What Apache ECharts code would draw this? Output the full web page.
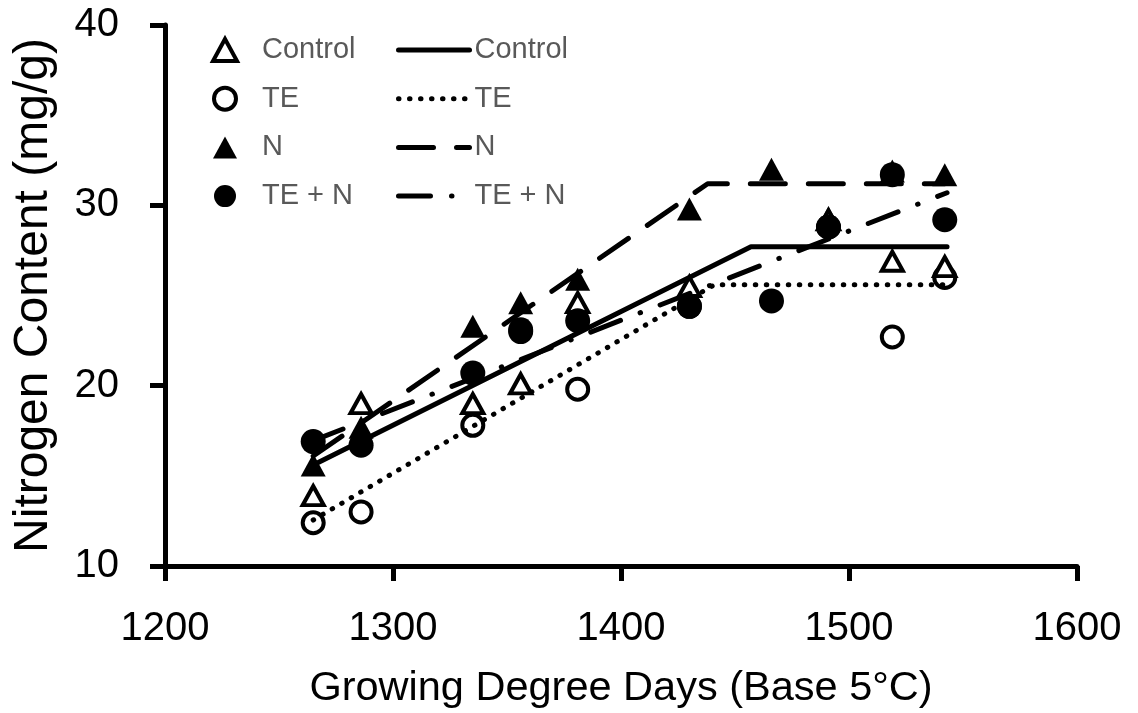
<!DOCTYPE html>
<html>
<head>
<meta charset="utf-8">
<style>
html,body{margin:0;padding:0;background:#fff;}
#chart{width:1138px;height:713px;}
</style>
<script src="https://cdn.jsdelivr.net/npm/echarts@6/dist/echarts.min.js"></script>
</head>
<body>
<div id="chart"></div>
<script>
// Growing degree days (x) for each sampling date
const gdd = [1265, 1286, 1335, 1356, 1381, 1430, 1466, 1491, 1519, 1542];
// Observed nitrogen content (mg/g); null = not visible in the figure
const controlObs = [13.9, 19.0, 19.0, 20.1, 24.6, 25.5, null, 29.2, 26.9, 26.6];
const teObs      = [12.4, 13.0, 17.8, 23.0, 19.8, 24.4, null, 28.8, 22.7, 26.0];
const nObs       = [15.6, 17.7, 23.3, 24.6, 25.9, 29.8, 32.0, 29.3, 31.9, 31.7];
const teNObs     = [16.9, 16.7, 20.7, 23.1, 23.6, 24.4, 24.7, 28.8, 31.7, 29.2];
// Fitted linear-plateau models: [GDD, N content]
const controlFit = [[1265, 15.6], [1457, 27.7], [1543, 27.7]];
const teFit      = [[1265, 12.55], [1441, 25.6], [1542, 25.6]];
const nFit       = [[1265, 16.1], [1438, 31.2], [1542, 31.2]];
const teNFit     = [[1265, 16.95], [1543, 30.7]];
// Axis ticks
const xTicks = {min: 1200, max: 1600, step: 100};
const yTicks = {min: 10, max: 40, step: 10};
const names = ['Control', 'TE', 'N', 'TE + N'];

function pairs(ys) {
  return gdd.map((x, i) => [x, ys[i]]).filter(p => p[1] !== null);
}

const FONT = 'Liberation Sans';
const openStyle = {color: '#ffffff', borderColor: '#000000', borderWidth: 4, opacity: 1};
const fillStyle = {color: '#000000', borderWidth: 0, opacity: 1};

const scatterSeries = [
  {name: names[1], type: 'scatter', symbol: 'circle', symbolSize: 21, itemStyle: openStyle, data: pairs(teObs), z: 2},
  {name: names[2], type: 'scatter', symbol: 'triangle', symbolSize: [25, 23], itemStyle: fillStyle, data: pairs(nObs), z: 2},
  {name: names[0], type: 'scatter', symbol: 'triangle', symbolSize: [21, 19], itemStyle: openStyle, data: pairs(controlObs), z: 2},
  {name: names[3], type: 'scatter', symbol: 'circle', symbolSize: 25, itemStyle: fillStyle, data: pairs(teNObs), z: 2}
];

const lineTypes = ['solid', [0.5, 10.5], [35, 23], [32, 21, 0.5, 21]];
const fits = [controlFit, teFit, nFit, teNFit];
const lineSeries = fits.map((d, i) => ({
  name: names[i] + ' ',
  type: 'line',
  data: d,
  symbol: 'none',
  showSymbol: false,
  silent: true,
  z: 3,
  lineStyle: {color: '#000', width: 5, type: lineTypes[i], cap: 'round', join: 'round'},
  itemStyle: {color: '#000'}
}));

const legendText = {fontFamily: FONT, fontSize: 29, color: '#595959', lineHeight: 30};

const chart = echarts.init(document.getElementById('chart'), null, {renderer: 'canvas'});
chart.setOption({
  animation: false,
  backgroundColor: '#fff',
  grid: {left: 165, right: 61, top: 25, bottom: 147, containLabel: false, outerBoundsMode: 'none'},
  xAxis: {
    type: 'value', min: xTicks.min, max: xTicks.max, interval: xTicks.step,
    name: 'Growing Degree Days (Base 5°C)', nameLocation: 'middle', nameGap: 102,
    nameTextStyle: {fontFamily: FONT, fontSize: 41.5, color: '#000'},
    axisLine: {show: true, lineStyle: {color: '#000', width: 5}},
    axisTick: {show: true, inside: false, length: 15, lineStyle: {color: '#000', width: 5}},
    axisLabel: {fontFamily: FONT, fontSize: 40, color: '#000', margin: 43, formatter: v => String(v)},
    splitLine: {show: false}
  },
  yAxis: {
    type: 'value', min: yTicks.min, max: yTicks.max, interval: yTicks.step,
    name: 'Nitrogen Content (mg/g)', nameLocation: 'middle', nameGap: 107, nameRotate: 90,
    nameTextStyle: {fontFamily: FONT, fontSize: 48, color: '#000'},
    axisLine: {show: true, lineStyle: {color: '#000', width: 5}},
    axisTick: {show: true, inside: false, length: 15, lineStyle: {color: '#000', width: 5}},
    axisLabel: {fontFamily: FONT, fontSize: 40, color: '#000', margin: 46, formatter: v => String(v)},
    splitLine: {show: false}
  },
  legend: [
    {
      orient: 'vertical', left: 206, top: 30, itemWidth: 24, itemHeight: 22, itemGap: 18.7,
      textStyle: Object.assign({padding: [0, 0, 0, 20]}, legendText),
      selectedMode: false,
      data: [
        {name: names[0], icon: 'triangle', itemStyle: {borderWidth: 4, borderColor: '#000', color: '#fff'}},
        {name: names[1], icon: 'circle', itemStyle: {borderWidth: 4, borderColor: '#000', color: '#fff'}},
        {name: names[2], icon: 'triangle', itemStyle: {color: '#000', borderWidth: 0}},
        {name: names[3], icon: 'circle', itemStyle: {color: '#000', borderWidth: 0}}
      ]
    },
    {
      orient: 'vertical', left: 391, top: 30, itemWidth: 71, itemHeight: 20, itemGap: 18.7,
      textStyle: legendText,
      selectedMode: false,
      formatter: n => n.trim(),
      data: names.map((n, i) => ({
        name: n + ' ',
        itemStyle: {color: 'rgba(0,0,0,0)', borderColor: 'rgba(0,0,0,0)', borderWidth: 0},
        lineStyle: {color: '#000', width: 5, type: lineTypes[i], cap: 'round'}
      }))
    }
  ],
  series: scatterSeries.concat(lineSeries)
});
</script>
</body>
</html>
